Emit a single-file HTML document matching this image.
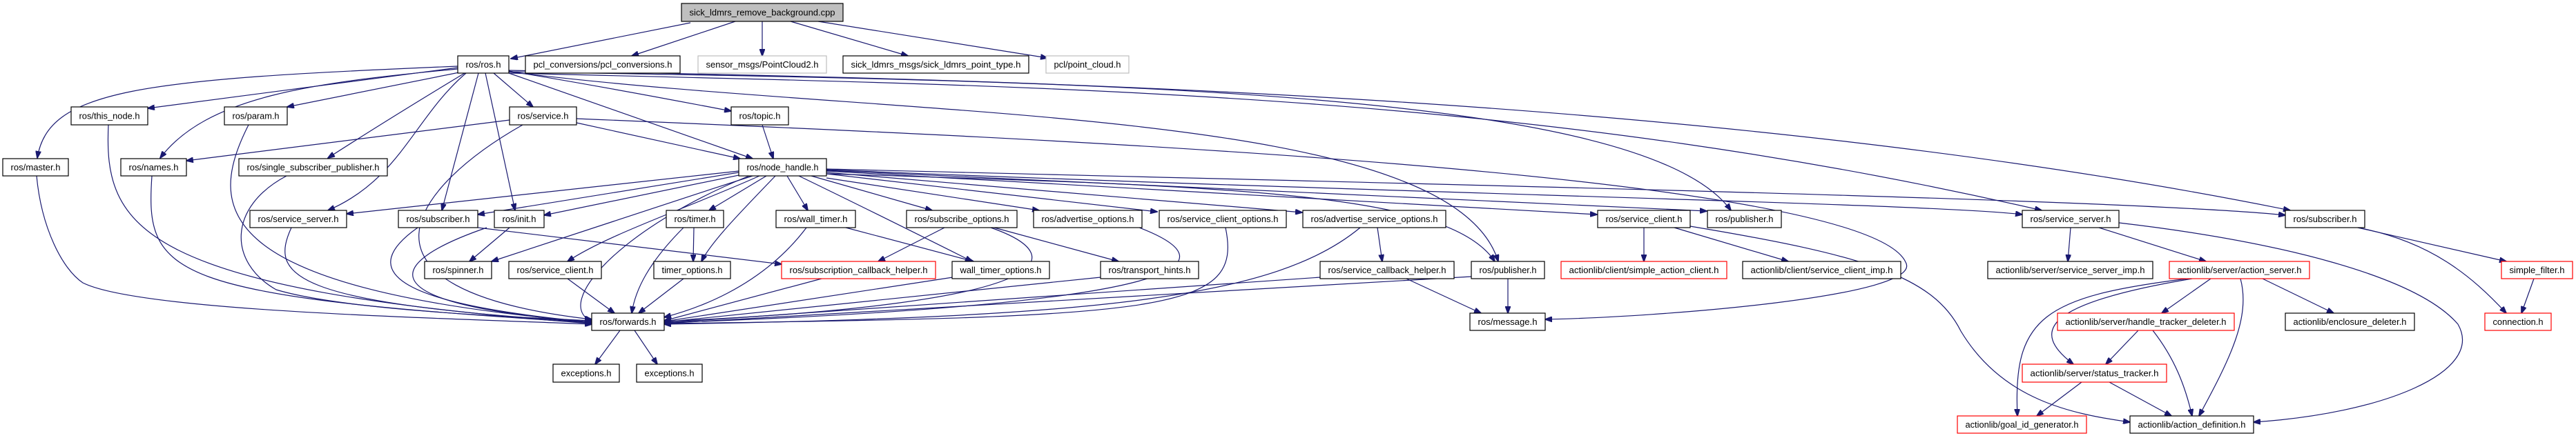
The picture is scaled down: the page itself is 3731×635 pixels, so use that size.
<!DOCTYPE html>
<html><head><meta charset="utf-8"><style>
html,body{margin:0;padding:0;background:#fff;}
svg{display:block;}
text{font-family:"Liberation Sans",Arial,sans-serif;font-size:13px;fill:#000;}
.e{fill:none;stroke:#191970;stroke-width:1.2;marker-end:url(#a);}
.n{fill:#fff;stroke:#000;stroke-width:1.2;}
.r{fill:#fff;stroke:#ff0000;stroke-width:1.2;}
.g{fill:#fff;stroke:#bfbfbf;stroke-width:1.2;}
</style></head><body>
<svg width="3731" height="635" viewBox="0 0 3731 635" xmlns="http://www.w3.org/2000/svg">
<defs><marker id="a" markerWidth="11" markerHeight="8" refX="10" refY="4" orient="auto" markerUnits="userSpaceOnUse"><path d="M0,0 L11,4 L0,8 z" fill="#191970" stroke="#191970"/></marker></defs>
<g>
<path class="e" d="M1000,33 L740,85"/>
<path class="e" d="M1065,31 L915,81"/>
<path class="e" d="M1104,31 L1104,81"/>
<path class="e" d="M1145,31 L1315,81"/>
<path class="e" d="M1185,31 L1517,84"/>
<path class="e" d="M663,96 C200,115 70,130 54,229"/>
<path class="e" d="M663,98 L214,157"/>
<path class="e" d="M663,100 C450,120 300,140 232,229"/>
<path class="e" d="M670,104 L416,155"/>
<path class="e" d="M673,106 C600,150 520,200 475,229"/>
<path class="e" d="M675,106 C600,170 580,260 475,305"/>
<path class="e" d="M693,106 L640,305"/>
<path class="e" d="M703,106 L746,305"/>
<path class="e" d="M715,106 L772,155"/>
<path class="e" d="M737,106 L1090,230"/>
<path class="e" d="M737,103 C900,130 1000,150 1059,161"/>
<path class="e" d="M737,104 C1600,118 2380,130 2507,305"/>
<path class="e" d="M737,106 C1500,125 2200,130 2957,305"/>
<path class="e" d="M737,102 C1500,115 2500,140 3317,305"/>
<path class="e" d="M737,104 C1300,175 2100,150 2170,379"/>
<path class="e" d="M738,174 L270,233"/>
<path class="e" d="M757,181 C600,270 480,420 857,463"/>
<path class="e" d="M835,178 L1072,230"/>
<path class="e" d="M835,172 C1500,200 2700,250 2760,380 C2790,430 2400,460 2238,463"/>
<path class="e" d="M1104,181 L1120,230"/>
<path class="e" d="M1070,248 L502,310"/>
<path class="e" d="M1070,250 L692,311"/>
<path class="e" d="M1075,253 L788,312"/>
<path class="e" d="M1090,255 C950,300 800,350 712,379"/>
<path class="e" d="M1100,255 C1000,300 880,340 822,379"/>
<path class="e" d="M1110,255 L1027,305"/>
<path class="e" d="M1123,255 C1080,300 1030,350 1016,379"/>
<path class="e" d="M1140,255 L1170,305"/>
<path class="e" d="M1157,255 C1250,300 1350,350 1408,379"/>
<path class="e" d="M1175,255 L1350,305"/>
<path class="e" d="M1197,258 L1505,305"/>
<path class="e" d="M1197,252 L1676,307"/>
<path class="e" d="M1197,250 L1886,308"/>
<path class="e" d="M1197,248 L2313,311"/>
<path class="e" d="M1197,247 L2472,306"/>
<path class="e" d="M1197,246 C2000,280 2800,295 2929,311"/>
<path class="e" d="M1197,245 C2200,270 3100,290 3310,312"/>
<path class="e" d="M1197,252 C1800,270 2100,280 2165,379"/>
<path class="e" d="M1085,255 C900,330 800,440 857,466"/>
<path class="e" d="M692,330 L1132,383"/>
<path class="e" d="M415,255 C330,300 330,380 400,420 C500,450 750,460 857,465"/>
<path class="e" d="M422,330 C390,400 420,440 857,467"/>
<path class="e" d="M220,255 C210,400 240,430 857,468"/>
<path class="e" d="M157,181 C150,330 200,420 857,469"/>
<path class="e" d="M360,181 C300,300 300,420 857,467"/>
<path class="e" d="M53,255 C60,330 90,390 120,410 C200,450 600,460 857,470"/>
<path class="e" d="M605,330 C520,390 560,440 857,467"/>
<path class="e" d="M705,330 C560,380 520,440 857,467"/>
<path class="e" d="M738,330 L680,379"/>
<path class="e" d="M822,404 L890,454"/>
<path class="e" d="M1005,330 L1004,379"/>
<path class="e" d="M990,330 C940,380 920,420 915,454"/>
<path class="e" d="M990,404 L925,454"/>
<path class="e" d="M1168,330 C1100,420 1000,450 962,460"/>
<path class="e" d="M1225,330 L1410,379"/>
<path class="e" d="M1368,330 L1272,379"/>
<path class="e" d="M1440,330 L1620,379"/>
<path class="e" d="M1435,330 C1550,370 1550,440 962,466"/>
<path class="e" d="M1650,330 C1780,380 1750,440 962,468"/>
<path class="e" d="M1775,330 C1800,450 1700,460 962,469"/>
<path class="e" d="M1995,330 L2002,379"/>
<path class="e" d="M1970,330 C1850,430 1600,460 962,470"/>
<path class="e" d="M1190,404 L962,465"/>
<path class="e" d="M1380,402 L962,466"/>
<path class="e" d="M1594,402 L962,467"/>
<path class="e" d="M1912,402 L962,468"/>
<path class="e" d="M2037,404 L2145,454"/>
<path class="e" d="M2131,401 L962,469"/>
<path class="e" d="M2184,404 L2184,454"/>
<path class="e" d="M2381,330 L2381,379"/>
<path class="e" d="M2425,330 L2590,379"/>
<path class="e" d="M2448,328 C2700,370 2800,400 2840,480 C2900,580 3000,600 3085,612"/>
<path class="e" d="M2999,330 L2995,379"/>
<path class="e" d="M3040,330 L3195,379"/>
<path class="e" d="M3069,323 C3300,350 3500,400 3560,470 C3600,540 3450,600 3264,612"/>
<path class="e" d="M3415,330 L3630,379"/>
<path class="e" d="M3415,330 C3520,350 3580,400 3630,454"/>
<path class="e" d="M3670,404 L3652,454"/>
<path class="e" d="M3168,404 C2960,430 2915,460 2922,603"/>
<path class="e" d="M3175,404 C2960,440 2940,480 3003,528"/>
<path class="e" d="M3202,404 L3131,454"/>
<path class="e" d="M3245,404 C3260,460 3230,520 3185,603"/>
<path class="e" d="M3277,404 L3380,454"/>
<path class="e" d="M3097,479 L3050,528"/>
<path class="e" d="M3118,479 C3150,520 3165,560 3175,603"/>
<path class="e" d="M3015,554 L2950,603"/>
<path class="e" d="M3055,554 L3145,603"/>
<path class="e" d="M898,479 L862,528"/>
<path class="e" d="M919,479 L952,528"/>
</g>
<g>
<rect x="987" y="5" width="234" height="26" fill="#bfbfbf" stroke="#000" stroke-width="1.2"/><text x="1104" y="22.5" text-anchor="middle" textLength="211" lengthAdjust="spacingAndGlyphs">sick_ldmrs_remove_background.cpp</text>
<rect class="n" x="663" y="81" width="74" height="25"/><text x="700" y="98" text-anchor="middle" textLength="51" lengthAdjust="spacingAndGlyphs">ros/ros.h</text>
<rect class="n" x="761" y="81" width="224" height="25"/><text x="873" y="98" text-anchor="middle" textLength="201" lengthAdjust="spacingAndGlyphs">pcl_conversions/pcl_conversions.h</text>
<rect class="g" x="1011" y="81" width="186" height="25"/><text x="1104" y="98" text-anchor="middle" textLength="163" lengthAdjust="spacingAndGlyphs">sensor_msgs/PointCloud2.h</text>
<rect class="n" x="1221" y="81" width="269" height="25"/><text x="1355.5" y="98" text-anchor="middle" textLength="246" lengthAdjust="spacingAndGlyphs">sick_ldmrs_msgs/sick_ldmrs_point_type.h</text>
<rect class="g" x="1515" y="81" width="120" height="25"/><text x="1575" y="98" text-anchor="middle" textLength="97" lengthAdjust="spacingAndGlyphs">pcl/point_cloud.h</text>
<rect class="n" x="103" y="155" width="111" height="26"/><text x="158.5" y="172.5" text-anchor="middle" textLength="88" lengthAdjust="spacingAndGlyphs">ros/this_node.h</text>
<rect class="n" x="325" y="155" width="91" height="26"/><text x="370.5" y="172.5" text-anchor="middle" textLength="68" lengthAdjust="spacingAndGlyphs">ros/param.h</text>
<rect class="n" x="738" y="155" width="97" height="26"/><text x="786.5" y="172.5" text-anchor="middle" textLength="74" lengthAdjust="spacingAndGlyphs">ros/service.h</text>
<rect class="n" x="1059" y="155" width="83" height="26"/><text x="1100.5" y="172.5" text-anchor="middle" textLength="60" lengthAdjust="spacingAndGlyphs">ros/topic.h</text>
<rect class="n" x="4" y="230" width="95" height="25"/><text x="51.5" y="247" text-anchor="middle" textLength="72" lengthAdjust="spacingAndGlyphs">ros/master.h</text>
<rect class="n" x="175" y="230" width="95" height="25"/><text x="222.5" y="247" text-anchor="middle" textLength="72" lengthAdjust="spacingAndGlyphs">ros/names.h</text>
<rect class="n" x="346" y="230" width="215" height="25"/><text x="453.5" y="247" text-anchor="middle" textLength="192" lengthAdjust="spacingAndGlyphs">ros/single_subscriber_publisher.h</text>
<rect class="n" x="1070" y="230" width="127" height="25"/><text x="1133.5" y="247" text-anchor="middle" textLength="104" lengthAdjust="spacingAndGlyphs">ros/node_handle.h</text>
<rect class="n" x="362" y="305" width="140" height="25"/><text x="432" y="322" text-anchor="middle" textLength="117" lengthAdjust="spacingAndGlyphs">ros/service_server.h</text>
<rect class="n" x="577" y="305" width="115" height="25"/><text x="634.5" y="322" text-anchor="middle" textLength="92" lengthAdjust="spacingAndGlyphs">ros/subscriber.h</text>
<rect class="n" x="716" y="305" width="72" height="25"/><text x="752" y="322" text-anchor="middle" textLength="49" lengthAdjust="spacingAndGlyphs">ros/init.h</text>
<rect class="n" x="965" y="305" width="83" height="25"/><text x="1006.5" y="322" text-anchor="middle" textLength="60" lengthAdjust="spacingAndGlyphs">ros/timer.h</text>
<rect class="n" x="1124" y="305" width="115" height="25"/><text x="1181.5" y="322" text-anchor="middle" textLength="92" lengthAdjust="spacingAndGlyphs">ros/wall_timer.h</text>
<rect class="n" x="1313" y="305" width="160" height="25"/><text x="1393" y="322" text-anchor="middle" textLength="137" lengthAdjust="spacingAndGlyphs">ros/subscribe_options.h</text>
<rect class="n" x="1497" y="305" width="157" height="25"/><text x="1575.5" y="322" text-anchor="middle" textLength="134" lengthAdjust="spacingAndGlyphs">ros/advertise_options.h</text>
<rect class="n" x="1679" y="305" width="184" height="25"/><text x="1771" y="322" text-anchor="middle" textLength="161" lengthAdjust="spacingAndGlyphs">ros/service_client_options.h</text>
<rect class="n" x="1887" y="305" width="207" height="25"/><text x="1990.5" y="322" text-anchor="middle" textLength="184" lengthAdjust="spacingAndGlyphs">ros/advertise_service_options.h</text>
<rect class="n" x="2314" y="305" width="134" height="25"/><text x="2381" y="322" text-anchor="middle" textLength="111" lengthAdjust="spacingAndGlyphs">ros/service_client.h</text>
<rect class="n" x="2473" y="305" width="107" height="25"/><text x="2526.5" y="322" text-anchor="middle" textLength="84" lengthAdjust="spacingAndGlyphs">ros/publisher.h</text>
<rect class="n" x="2929" y="305" width="140" height="25"/><text x="2999" y="322" text-anchor="middle" textLength="117" lengthAdjust="spacingAndGlyphs">ros/service_server.h</text>
<rect class="n" x="3310" y="305" width="115" height="25"/><text x="3367.5" y="322" text-anchor="middle" textLength="92" lengthAdjust="spacingAndGlyphs">ros/subscriber.h</text>
<rect class="n" x="615" y="379" width="97" height="25"/><text x="663.5" y="396" text-anchor="middle" textLength="74" lengthAdjust="spacingAndGlyphs">ros/spinner.h</text>
<rect class="n" x="737" y="379" width="134" height="25"/><text x="804" y="396" text-anchor="middle" textLength="111" lengthAdjust="spacingAndGlyphs">ros/service_client.h</text>
<rect class="n" x="947" y="379" width="111" height="25"/><text x="1002.5" y="396" text-anchor="middle" textLength="88" lengthAdjust="spacingAndGlyphs">timer_options.h</text>
<rect class="r" x="1132" y="379" width="223" height="25"/><text x="1243.5" y="396" text-anchor="middle" textLength="200" lengthAdjust="spacingAndGlyphs">ros/subscription_callback_helper.h</text>
<rect class="n" x="1379" y="379" width="141" height="25"/><text x="1449.5" y="396" text-anchor="middle" textLength="118" lengthAdjust="spacingAndGlyphs">wall_timer_options.h</text>
<rect class="n" x="1594" y="379" width="142" height="25"/><text x="1665" y="396" text-anchor="middle" textLength="119" lengthAdjust="spacingAndGlyphs">ros/transport_hints.h</text>
<rect class="n" x="1912" y="379" width="194" height="25"/><text x="2009" y="396" text-anchor="middle" textLength="171" lengthAdjust="spacingAndGlyphs">ros/service_callback_helper.h</text>
<rect class="n" x="2131" y="379" width="106" height="25"/><text x="2184" y="396" text-anchor="middle" textLength="83" lengthAdjust="spacingAndGlyphs">ros/publisher.h</text>
<rect class="r" x="2261" y="379" width="240" height="25"/><text x="2381" y="396" text-anchor="middle" textLength="217" lengthAdjust="spacingAndGlyphs">actionlib/client/simple_action_client.h</text>
<rect class="n" x="2524" y="379" width="229" height="25"/><text x="2638.5" y="396" text-anchor="middle" textLength="206" lengthAdjust="spacingAndGlyphs">actionlib/client/service_client_imp.h</text>
<rect class="n" x="2879" y="379" width="239" height="25"/><text x="2998.5" y="396" text-anchor="middle" textLength="216" lengthAdjust="spacingAndGlyphs">actionlib/server/service_server_imp.h</text>
<rect class="r" x="3142" y="379" width="203" height="25"/><text x="3243.5" y="396" text-anchor="middle" textLength="180" lengthAdjust="spacingAndGlyphs">actionlib/server/action_server.h</text>
<rect class="r" x="3623" y="379" width="103" height="25"/><text x="3674.5" y="396" text-anchor="middle" textLength="80" lengthAdjust="spacingAndGlyphs">simple_filter.h</text>
<rect class="n" x="857" y="454" width="105" height="25"/><text x="909.5" y="471" text-anchor="middle" textLength="82" lengthAdjust="spacingAndGlyphs">ros/forwards.h</text>
<rect class="n" x="2129" y="454" width="109" height="25"/><text x="2183.5" y="471" text-anchor="middle" textLength="86" lengthAdjust="spacingAndGlyphs">ros/message.h</text>
<rect class="r" x="2980" y="454" width="256" height="25"/><text x="3108" y="471" text-anchor="middle" textLength="233" lengthAdjust="spacingAndGlyphs">actionlib/server/handle_tracker_deleter.h</text>
<rect class="n" x="3310" y="454" width="187" height="25"/><text x="3403.5" y="471" text-anchor="middle" textLength="164" lengthAdjust="spacingAndGlyphs">actionlib/enclosure_deleter.h</text>
<rect class="r" x="3599" y="454" width="96" height="25"/><text x="3647" y="471" text-anchor="middle" textLength="73" lengthAdjust="spacingAndGlyphs">connection.h</text>
<rect class="n" x="801" y="528" width="96" height="26"/><text x="849" y="545.5" text-anchor="middle" textLength="73" lengthAdjust="spacingAndGlyphs">exceptions.h</text>
<rect class="n" x="922" y="528" width="95" height="26"/><text x="969.5" y="545.5" text-anchor="middle" textLength="72" lengthAdjust="spacingAndGlyphs">exceptions.h</text>
<rect class="r" x="2929" y="528" width="209" height="26"/><text x="3033.5" y="545.5" text-anchor="middle" textLength="186" lengthAdjust="spacingAndGlyphs">actionlib/server/status_tracker.h</text>
<rect class="r" x="2835" y="603" width="187" height="25"/><text x="2928.5" y="620" text-anchor="middle" textLength="164" lengthAdjust="spacingAndGlyphs">actionlib/goal_id_generator.h</text>
<rect class="n" x="3085" y="603" width="179" height="25"/><text x="3174.5" y="620" text-anchor="middle" textLength="156" lengthAdjust="spacingAndGlyphs">actionlib/action_definition.h</text>
</g>
</svg>
</body></html>
